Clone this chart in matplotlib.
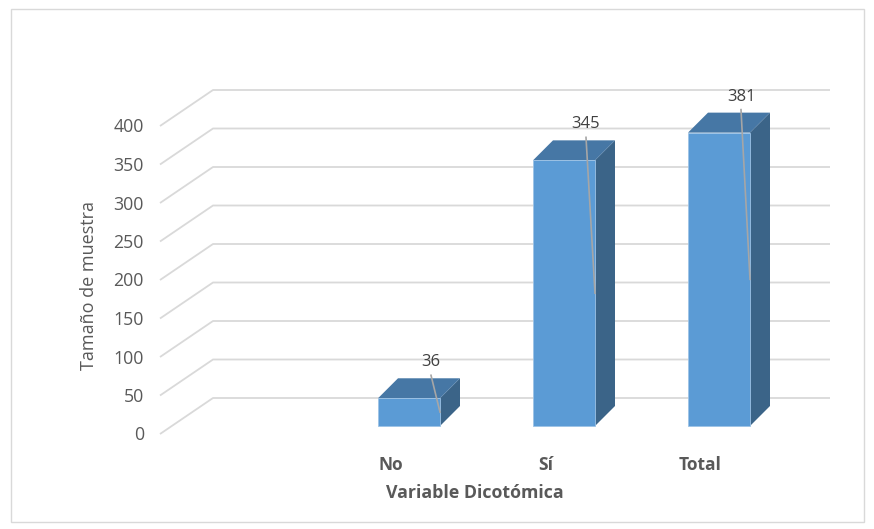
import numpy as np
import matplotlib
matplotlib.use("Agg")
import matplotlib.pyplot as plt
from matplotlib.patches import Polygon, Rectangle

categories = ["", "No", "Sí", "Total"]
values = [np.nan, 36, 345, 381]
yticks = [0, 50, 100, 150, 200, 250, 300, 350, 400]
ylabel = "Tamaño de muestra"
xlabel = "Variable Dicotómica"

plt.rcParams['font.family'] = ['Open Sans', 'DejaVu Sans']

W, H = 874, 529
fig = plt.figure(figsize=(W / 100, H / 100), dpi=100)
ax = fig.add_axes([0, 0, 1, 1])
# data coords: x in category units, y in value units
PX_CAT = 155.0
PX_VAL = 0.77
x0px, y0px = 254.0, 434.0
ax.set_xlim((0 - x0px) / PX_CAT, (W - x0px) / PX_CAT)
ax.set_ylim((y0px - H) / PX_VAL, (y0px - 0) / PX_VAL)
ax.axis('off')

grid_c = '#d9d9d9'
txt_c = '#595959'
# 3D grid: depth offset
gdx, gdy = 53 / PX_CAT, 36 / PX_VAL
gx_front = (160 - x0px) / PX_CAT
gx_right = (830 - x0px) / PX_CAT
for v in yticks:
    ax.plot([gx_front, gx_front + gdx, gx_right], [v, v + gdy, v + gdy],
            color=grid_c, lw=1.3, zorder=1, solid_capstyle='butt')
    ax.text(gx_front - 16 / PX_CAT, v - 1.5 / PX_VAL, str(v), ha='right',
            va='center', fontsize=12.8, color=txt_c)

# bars
half_w = 31 / PX_CAT
base = 8 / PX_VAL
bdx, bdy = 20 / PX_CAT, 20 / PX_VAL
front_c = '#5b9bd5'
top_c = '#4677a5'
side_c = '#3b6488'
for i, (cat, v) in enumerate(zip(categories, values)):
    if cat:
        ax.text(i - 0.12, -40, cat, ha='center', va='center', fontsize=12.5,
                fontweight='bold', color=txt_c)
    if np.isnan(v):
        continue
    l, r = i - half_w, i + half_w
    b, t = base, base + v
    ax.add_patch(Polygon([(r, b), (r, t), (r + bdx, t + bdy), (r + bdx, b + bdy)],
                         closed=True, fc=side_c, ec='none', zorder=3))
    ax.add_patch(Polygon([(l, t), (r, t), (r + bdx, t + bdy), (l + bdx, t + bdy)],
                         closed=True, fc=top_c, ec='none', zorder=3))
    ax.add_patch(Rectangle((l, b), 2 * half_w, v, fc=front_c, ec='#9dc3e6',
                           lw=0.6, zorder=4))
    # data label with leader line
    lx = i + 22 / PX_CAT
    ly = t + 36 / PX_VAL
    ax.text(lx, ly, str(int(v)), ha='center', va='center', fontsize=12,
            color='#404040', zorder=6)
    ax.plot([lx, r], [ly - 13 / PX_VAL, b + v / 2], color='#a6a6a6', lw=1.2,
            zorder=5)

ax.text((475 - x0px) / PX_CAT, (y0px - 493) / PX_VAL, xlabel, ha='center',
        va='center', fontsize=12.8, fontweight='bold', color=txt_c)
ax.text((89 - x0px) / PX_CAT, (y0px - 285) / PX_VAL, ylabel, ha='center',
        va='center', fontsize=13, rotation=90, color=txt_c)

# outer chart border
fig.add_artist(Rectangle((11 / W, 1 - 522 / H), (864 - 11) / W, (522 - 9) / H,
                         transform=fig.transFigure, fill=False, ec='#d9d9d9',
                         lw=1.0))

fig.savefig('out.png', dpi=100)
